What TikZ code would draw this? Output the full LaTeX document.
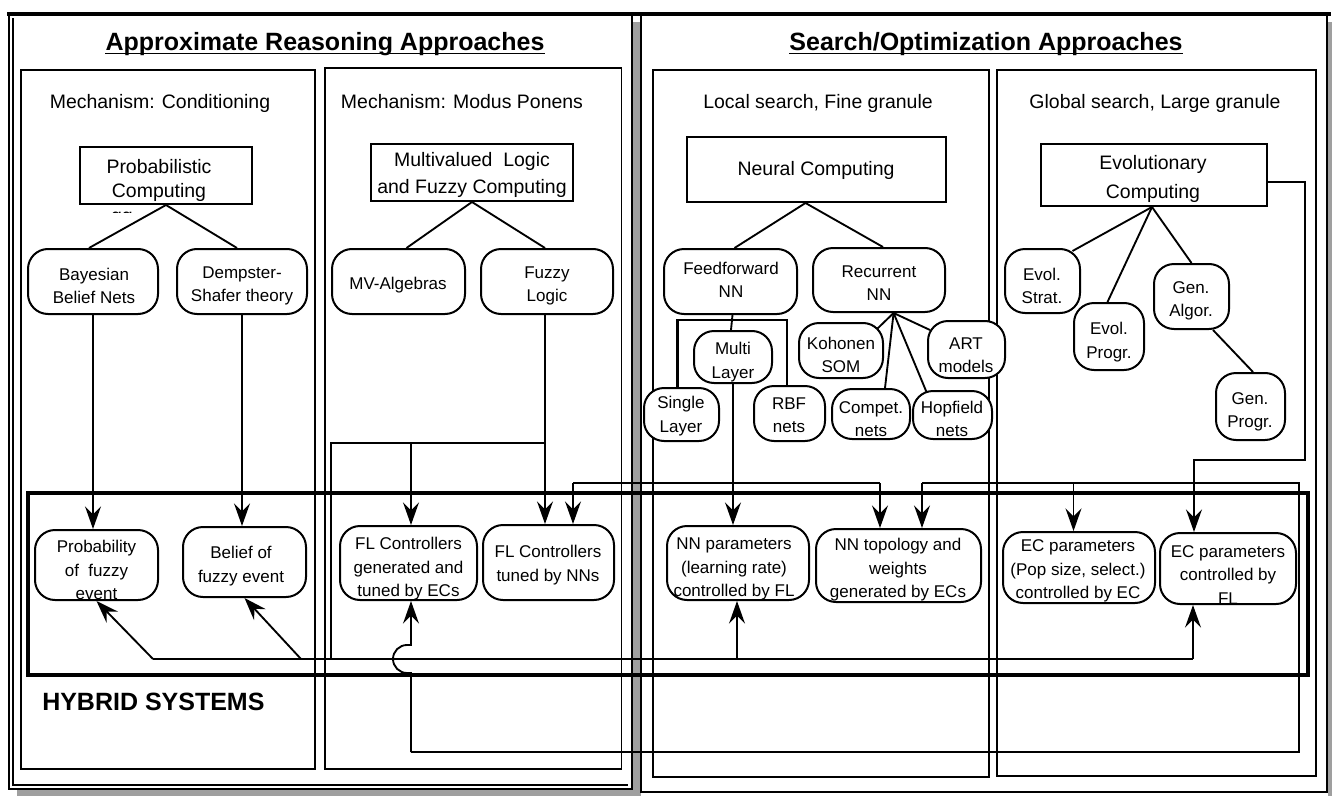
\documentclass[tikz,border=0pt]{standalone}
\usepackage{fontspec}
\setmainfont{Liberation Sans}
\usetikzlibrary{arrows.meta,fit,calc}
\begin{document}
\begin{tikzpicture}[x=0.75pt,y=-0.75pt,
  ln/.style={line width=1.4pt},
  arr/.style={line width=1.4pt,-{Stealth[length=17pt,width=12pt,inset=6pt]}},
  rb/.style={draw,line width=1.5pt,rounded corners=15pt,inner sep=0pt,fill=white},
  sq/.style={draw,line width=1.5pt,inner sep=0pt,fill=white},
  frame/.style={draw,line width=1.3pt},
  tbig/.style={font=\fontsize{14.6}{18}\selectfont,align=center,inner sep=0pt},
  tsm/.style={font=\fontsize{12.75}{17.6}\selectfont,align=center,inner sep=0pt},
  ttl/.style={font=\fontsize{18.75}{22}\selectfont\bfseries,inner sep=0pt},
]
\useasboundingbox (0,0) rectangle (1332,796);
% panels
\fill[gray!75] (17,22) rectangle (641,796);
\draw[line width=1.6pt,fill=white] (9,14) rectangle (632,789);
\draw[line width=1pt] (13,18) -- (13,785) -- (628,785);
\fill[gray!75] (1328,22) rectangle (1332,796);
\draw[line width=1.6pt,fill=white] (641,14) rectangle (1327,792);
\draw[line width=2.5pt] (7,14) -- (1331,14);
\draw[frame] (21,70) rectangle (315,769);
\draw[frame] (325,68) rectangle (621.5,769);
\draw[frame] (653,70) rectangle (989,777);
\draw[frame] (997,70) rectangle (1316,776);
% titles
\node[ttl,anchor=base] (t1) at (325,50) {Approximate Reasoning Approaches};
\draw[line width=1.4pt] ($(t1.base west)+(0,3.5)$) -- ($(t1.base east)+(0,3.5)$);
\node[ttl,anchor=base] (t2) at (986,50) {Search/Optimization Approaches};
\draw[line width=1.4pt] ($(t2.base west)+(0,3.5)$) -- ($(t2.base east)+(0,3.5)$);
\node[tbig,anchor=base] (h1) at (160,108) {Mechanism: Conditioning};
\node[tbig,anchor=base] (h2) at (462,108) {Mechanism: Modus Ponens};
\node[tbig,anchor=base] (h3) at (818,108) {Local search, Fine granule};
\node[tbig,anchor=base] (h4) at (1155,108) {Global search, Large granule};
% hybrid box
\draw[line width=2.5pt] (28,493) rectangle (1308,675);
\node[ttl,anchor=west] (hyb) at (42,702) {HYBRID SYSTEMS};
% top boxes
\node[sq,fit={(80,147)(252,204)}] (prob) {};
\node[tbig] (probT) at (159,180) {Probabilistic\\Computing};
\begin{scope}
\clip (100,205.5) rectangle (145,212);
\node[tbig,anchor=base] (ggT) at (122,222) {gg};
\end{scope}
\node[sq,fit={(371,144)(573,201)}] (mv) {};
\node[tbig,font=\fontsize{14.6}{20.25}\selectfont] (mvT) at (472,175) {Multivalued\ \ Logic\\and Fuzzy Computing};
\node[sq,fit={(687,137)(946,202)}] (neural) {};
\node[tbig] (neuralT) at (816,170) {Neural Computing};
\node[sq,fit={(1041,144)(1267,206)}] (evol) {};
\node[tbig,font=\fontsize{14.6}{21.75}\selectfont] (evolT) at (1153,179) {Evolutionary\\Computing};
% level 2
\node[rb,fit={(28,249)(158,314)}] (bay) {};
\node[tsm] (bayT) at (94,286) {Bayesian\\Belief Nets};
\node[rb,fit={(177,249)(307,314)}] (demp) {};
\node[tsm] (dempT) at (242,286) {Dempster-\\Shafer theory};
\node[rb,fit={(332,249)(465,314)}] (mva) {};
\node[tsm] (mvaT) at (398,285) {MV-Algebras};
\node[rb,fit={(481,249)(613,314)}] (fuzzy) {};
\node[tsm] (fuzzyT) at (547,286) {Fuzzy\\Logic};
\node[rb,fit={(664,249)(797,314)}] (ff) {};
\node[tsm] (ffT) at (731,280) {Feedforward\\NN};
\node[rb,fit={(813,248)(945,312)}] (rec) {};
\node[tsm] (recT) at (879,283) {Recurrent\\NN};
\node[rb,fit={(1005,249)(1080,313)}] (es) {};
\node[tsm] (esT) at (1042,286) {Evol.\\Strat.};
\node[rb,fit={(1154,264)(1229,329)}] (ga) {};
\node[tsm] (gaT) at (1191,301) {Gen.\\Algor.};
\node[rb,fit={(1074,303)(1144,370)}] (ep) {};
\node[tsm] (epT) at (1109,342) {Evol.\\Progr.};
\node[rb,fit={(1216,373)(1285,440)}] (gp) {};
\node[tsm] (gpT) at (1250,412) {Gen.\\Progr.};
% NN subnodes
\node[rb,fit={(694,331)(772,383)}] (ml) {};
\node[tsm] (mlT) at (733,362) {Multi\\Layer};
\node[rb,fit={(644,388)(719,441)}] (sl) {};
\node[tsm] (slT) at (681,416) {Single\\Layer};
\node[rb,fit={(754,386)(825,441)}] (rbf) {};
\node[tsm] (rbfT) at (789,415) {RBF\\nets};
\node[rb,fit={(799,323)(883,378)}] (koh) {};
\node[tsm] (kohT) at (841,355) {Kohonen\\SOM};
\node[rb,fit={(928,321)(1005,378)}] (art) {};
\node[tsm] (artT) at (966,355) {ART\\models};
\node[rb,fit={(832,389)(910,439)}] (comp) {};
\node[tsm] (compT) at (871,419) {Compet.\\nets};
\node[rb,fit={(913,391)(992,439)}] (hop) {};
\node[tsm] (hopT) at (952,419) {Hopfield\\nets};
% bottom nodes
\node[rb,fit={(35,530)(158,600)}] (pfe) {};
\node[tsm] (pfeT) at (96.5,570) {Probability\\of\ \ fuzzy\\event};
\node[rb,fit={(183,527)(306,597)}] (bfe) {};
\node[tsm] (bfeT) at (241,566) {Belief of\\fuzzy event};
\node[rb,fit={(340,526)(477,600)}] (flg) {};
\node[tsm] (flgT) at (408.5,569) {FL Controllers\\generated and\\tuned by ECs};
\node[rb,fit={(483,525)(614,600)}] (fln) {};
\node[tsm] (flnT) at (548,565) {FL Controllers\\tuned by NNs};
\node[rb,fit={(667,526)(809,600)}] (nnp) {};
\node[tsm] (nnpT) at (734,569) {NN parameters\\(learning rate)\\controlled by FL};
\node[rb,fit={(816,529)(981,602)}] (nnt) {};
\node[tsm] (nntT) at (898,570) {NN topology and\\weights\\generated by ECs};
\node[rb,fit={(1003,532)(1155,603)}] (ecp) {};
\node[tsm] (ecpT) at (1078,571) {EC parameters\\(Pop size, select.)\\controlled by EC};
\node[rb,fit={(1160,533)(1296,604)}] (ecf) {};
\node[tsm] (ecfT) at (1228,575) {EC parameters\\controlled by\\FL};
% tree lines
\draw[ln] (prob.south) -- ($(bay.north)+(-4,0)$);
\draw[ln] (prob.south) -- ($(demp.north)+(-5,0)$);
\draw[ln] (mv.south) -- ($(mva.north)+(8,0)$);
\draw[ln] (mv.south) -- ($(fuzzy.north)+(-2,0)$);
\draw[ln] ($(neural.south)+(-11,0)$) -- ($(ff.north)+(4,0)$);
\draw[ln] ($(neural.south)+(-11,0)$) -- ($(rec.north)+(4,0)$);
\draw[ln] ($(evol.south)+(-2,0)$) -- ($(es.north east)+(-8.5,3)$);
\draw[ln] ($(evol.south)+(-2,0)$) -- ($(ep.north)+(-1.5,0)$);
\draw[ln] ($(evol.south)+(-2,0)$) -- (ga.north);
\draw[ln] ($(ga.south)+(21.5,0)$) -- ($(gp.north)+(2.5,0)$);
\draw[ln] ($(rec.south)+(14.6,0)$) -- ($(koh.north east)+(-7,7)$);
\draw[ln] ($(rec.south)+(14.6,0)$) -- ($(comp.north)+(14,0)$);
\draw[ln] ($(rec.south)+(14.6,0)$) -- ($(hop.north)+(-26,2)$);
\draw[ln] ($(rec.south)+(14.6,0)$) -- ($(art.north west)+(3,10)$);
\draw[ln] ($(ff.south)+(2,0)$) -- ($(ml.north)+(-2,0)$);
\draw[line width=1.8pt] ($(sl.north)+(-4,0)$) -- ++(0,-67) -| ($(rbf.north)+(-2.5,0)$);
% junction coordinates
\coordinate (j1) at (545,443);
\coordinate (j2) at (331,443);
\coordinate (j3) at (331,659);
\coordinate (j4) at (411,443);
\coordinate (k1) at (153,659);
\coordinate (k2) at (301,659);
\coordinate (k3) at (737,659);
\coordinate (k4) at (1193,659);
\coordinate (q1) at (573,483);
\coordinate (q2) at (880,483);
\coordinate (e1) at (411,752);
\coordinate (e2) at (1299,752);
\coordinate (e3) at (1299,483);
\coordinate (e4) at (922,483);
\coordinate (e5) at (1073.5,483);
\coordinate (g1) at (1305,182);
\coordinate (g2) at (1305,460);
\coordinate (g3) at (1194,460);
% arrows
\draw[arr] (bay.south) -- (bay.south |- pfe.north);
\draw[arr] (demp.south) -- (demp.south |- bfe.north);
\draw[arr] (fuzzy.south -| j1) -- (fln.north -| j1);
\draw[ln] (j1) -- (j2) -- (j3);
\draw[arr] (j4) -- (j4 |- flg.north);
\draw[ln] (k1) -- (k4);
\draw[arr] (k1) -- (pfe.south);
\draw[arr] (k2) -- (bfe.south);
\draw[arr] (k3) -- (k3 |- nnp.south);
\draw[arr] (k4) -- (k4 |- ecf.south);
\draw[arr] (ml.south) -- (ml.south |- nnp.north);
\draw[ln] (q1) -- (q2);
\draw[arr] (q1) -- (q1 |- fln.north);
\draw[arr] (q2) -- (q2 |- nnt.north);
\draw[ln] (e1) -- (e2) -- (e3) -- (e4);
\draw[arr] (e4) -- (e4 |- nnt.north);
\draw[arr] (e5) -- (e5 |- ecp.north);
\draw[arr] (e1) -- (411,673) -- (407,673) arc[start angle=90,end angle=270,radius=14] -- (411,645) -- (e1 |- flg.south);
\draw[arr] ($(evol.east)+(0,7)$) -- (g1) -- (g2) -- (g3) -- (g3 |- ecf.north);
\end{tikzpicture}
\end{document}
